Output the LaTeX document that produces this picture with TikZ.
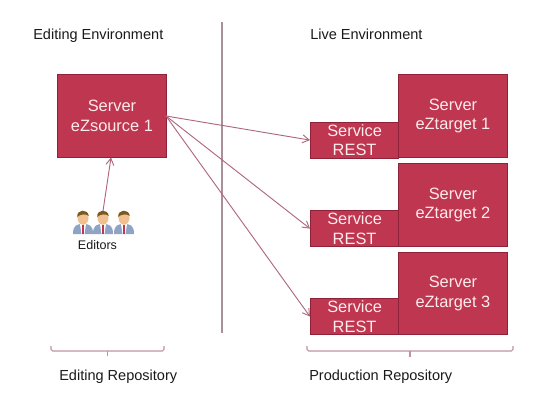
\documentclass[tikz,border=0pt]{standalone}
\usepackage{fontspec}
\setmainfont{Liberation Sans}
\usetikzlibrary{arrows.meta}
\definecolor{boxfill}{HTML}{BE3650}
\definecolor{boxline}{HTML}{8E2238}
\definecolor{linkc}{HTML}{B0687C}
\definecolor{divc}{HTML}{A88F98}
\definecolor{bracec}{HTML}{BD95A0}
\definecolor{labelc}{HTML}{1A1A1A}
\definecolor{suitc}{HTML}{8FA3C4}
\definecolor{skinc}{HTML}{F0C090}
\definecolor{hairc}{HTML}{7A5A20}
\tikzset{
  x=0.75pt,y=-0.75pt,
  boxbase/.style={draw=boxline,line width=0.9pt,fill=boxfill,text=white!92!red,font=\fontsize{12.3}{14.6}\selectfont,align=center,inner sep=0pt,anchor=north west},
  server/.style={boxbase,minimum width=81.5pt,minimum height=62pt,execute at begin node={\rule{0pt}{12pt}}},
  service/.style={boxbase,minimum width=66pt,minimum height=27pt},
  caption/.style={text=labelc,font=\fontsize{10.9}{13}\selectfont,inner sep=0pt,anchor=west},
  link/.style={draw=linkc,line width=0.7pt,-{Straight Barb[length=5pt,width=6pt]}},
  repobrace/.style={draw=bracec,line width=0.8pt,rounded corners=1.2pt},
  person/.pic={
    \fill[suitc] (-10,24) .. controls (-10,15) and (-6,14) .. (0,14) .. controls (6,14) and (10,15) .. (10,24) -- cycle;
    \fill[white] (-3,14) -- (3,14) -- (1.5,24) -- (-1.5,24) -- cycle;
    \fill[boxfill] (-1,15) -- (1,15) -- (1,24) -- (-1,24) -- cycle;
    \fill[skinc] (0,8) circle[x radius=5.5,y radius=6.8];
    \fill[hairc] (-5.8,7) .. controls (-6.5,-1) and (5,-1.5) .. (5.8,6) .. controls (3,3.5) and (-3,4) .. (-5.8,7) -- cycle;
  }
}
\begin{document}
\begin{tikzpicture}
\useasboundingbox (0,0) rectangle (550,408);
\fill[white] (0,0) rectangle (550,408);
% divider
\coordinate (divtop) at (222,22);
\coordinate (divbot) at (222,333);
\draw[draw=divc,line width=0.8pt] (divtop) -- (divbot);
% headings
\node[caption] (edenv) at (33,35.5) {Editing Environment};
\node[caption] (liveenv) at (310,34) {Live Environment};
% services first so that servers overlap
\node[service] (svc1) at (310,121.5) {Service\\REST};
\node[service] (svc2) at (310,210) {Service\\REST};
\node[service] (svc3) at (310,298) {Service\\REST};
\node[server] (src) at (57,74) {Server\\eZsource 1};
\node[server] (t1) at (398,74) {Server\\eZtarget 1};
\node[server] (t2) at (398,163) {Server\\eZtarget 2};
\node[server] (t3) at (398,251.5) {Server\\eZtarget 3};
% editors
\pic at (83,210) {person};
\pic at (103,210) {person};
\pic at (124,210) {person};
\node[text=labelc,font=\fontsize{9.4}{11}\selectfont,inner sep=0pt] (eds) at (97.5,245) {Editors};
\coordinate (edtop) at (103,211);
\coordinate (edtip) at (111,157.5);
% connectors
\coordinate (srcout) at (166,116);
\draw[link] (edtop) -- (edtip);
\draw[link] (srcout) -- (svc1.west);
\draw[link] (srcout) -- (svc2.west);
\draw[link] (srcout) -- (svc3.west);
% braces
\draw[repobrace] (51,346) -- (51,351) -- (164,351) -- (164,346);
\draw[repobrace] (107.5,351) -- (107.5,356);
\draw[repobrace] (307,346) -- (307,351) -- (513,351) -- (513,346);
\draw[repobrace] (410,351) -- (410,357);
\node[caption] (edrepo) at (59,377) {Editing Repository};
\node[caption] (prodrepo) at (309,377) {Production Repository};
\end{tikzpicture}
\end{document}
